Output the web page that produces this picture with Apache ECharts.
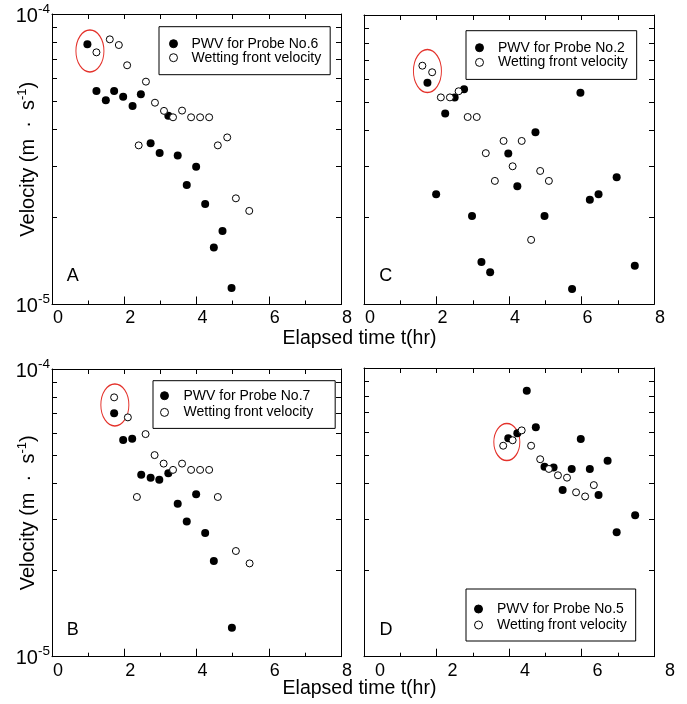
<!DOCTYPE html>
<html><head><meta charset="utf-8">
<script src="https://cdn.jsdelivr.net/npm/echarts@6/dist/echarts.min.js"></script>
<style>html,body{margin:0;padding:0;background:#fff}#c{width:687px;height:704px}</style>
</head><body><div id="c"></div>
<script>
// ---------- data ----------
const panelLetters = ['A', 'C', 'B', 'D'];
const probeNames = ['PWV for Probe No.6', 'PWV for Probe No.2', 'PWV for Probe No.7', 'PWV for Probe No.5'];
const wettingName = 'Wetting front velocity';
const xTitle = 'Elapsed time t(hr)';
const xTickLabels = [0, 2, 4, 6, 8];
const yLabelValues = [1e-5, 1e-4];
const yLabelExponents = ['-5', '-4'];
const yTickValues = [1e-5, 2e-5, 3e-5, 4e-5, 5e-5, 6e-5, 7e-5, 8e-5, 9e-5, 1e-4];

// Panel A (Probe No.6)
const pwvA = [[0.98,7.87e-5],[1.23,5.43e-5],[1.49,5.05e-5],[1.72,5.43e-5],[1.97,5.19e-5],[2.23,4.82e-5],[2.46,5.29e-5],[2.73,3.59e-5],[2.98,3.32e-5],[3.22,4.46e-5],[3.48,3.26e-5],[3.73,2.58e-5],[3.99,2.98e-5],[4.24,2.22e-5],[4.48,1.57e-5],[4.72,1.79e-5],[4.97,1.14e-5]];
const wetA = [[1.23,7.38e-5],[1.60,8.18e-5],[1.85,7.82e-5],[2.08,6.66e-5],[2.40,3.53e-5],[2.60,5.85e-5],[2.85,4.95e-5],[3.10,4.64e-5],[3.35,4.41e-5],[3.60,4.65e-5],[3.85,4.41e-5],[4.10,4.41e-5],[4.35,4.41e-5],[4.59,3.53e-5],[4.85,3.76e-5],[5.09,2.32e-5],[5.46,2.10e-5]];
const circledA = [[1.05,7.46e-5]];

// Panel C (Probe No.2)
const pwvC = [[1.75,5.83e-5],[1.99,2.40e-5],[2.24,4.57e-5],[2.50,5.19e-5],[2.76,5.54e-5],[2.98,2.02e-5],[3.24,1.40e-5],[3.48,1.29e-5],[3.98,3.32e-5],[4.23,2.56e-5],[4.73,3.93e-5],[4.98,2.02e-5],[5.74,1.13e-5],[5.97,5.39e-5],[6.23,2.30e-5],[6.47,2.40e-5],[6.97,2.75e-5],[7.47,1.36e-5]];
const wetC = [[1.61,6.68e-5],[1.88,6.34e-5],[2.12,5.19e-5],[2.37,5.19e-5],[2.61,5.45e-5],[2.86,4.44e-5],[3.11,4.44e-5],[3.36,3.33e-5],[3.61,2.67e-5],[3.85,3.67e-5],[4.10,3.00e-5],[4.35,3.67e-5],[4.61,1.67e-5],[4.86,2.89e-5],[5.10,2.67e-5]];
const circledC = [[1.75,6.40e-5]];

// Panel B (Probe No.7)
const pwvB = [[1.72,7.02e-5],[1.97,5.67e-5],[2.22,5.72e-5],[2.47,4.29e-5],[2.73,4.19e-5],[2.97,4.12e-5],[3.22,4.34e-5],[3.48,3.40e-5],[3.73,2.95e-5],[3.99,3.67e-5],[4.24,2.69e-5],[4.48,2.15e-5],[4.98,1.26e-5]];
const wetB = [[1.72,7.97e-5],[2.10,6.79e-5],[2.35,3.59e-5],[2.59,5.94e-5],[2.84,5.02e-5],[3.09,4.69e-5],[3.35,4.46e-5],[3.60,4.69e-5],[3.85,4.46e-5],[4.10,4.46e-5],[4.35,4.46e-5],[4.59,3.59e-5],[5.09,2.33e-5],[5.47,2.11e-5]];
const circledB = [[1.74,7.50e-5]];

// Panel D (Probe No.5)
const pwvD = [[3.98,5.71e-5],[4.23,5.94e-5],[4.49,8.34e-5],[4.74,6.23e-5],[4.98,4.55e-5],[5.23,4.52e-5],[5.48,3.78e-5],[5.73,4.47e-5],[5.98,5.68e-5],[6.23,4.47e-5],[6.47,3.63e-5],[6.72,4.77e-5],[6.97,2.70e-5],[7.48,3.09e-5]];
const wetD = [[3.84,5.38e-5],[4.10,5.62e-5],[4.35,6.08e-5],[4.61,5.38e-5],[4.86,4.83e-5],[5.10,4.47e-5],[5.35,4.25e-5],[5.60,4.17e-5],[5.85,3.71e-5],[6.10,3.59e-5],[6.34,3.93e-5]];
const circledD = [[3.94,5.54e-5]];

// ---------- layout ----------
const FONT = "'Liberation Sans', Arial, Helvetica, sans-serif";
const panels = [
  { grid: {left: 52, top: 14, width: 289, height: 290.5}, pwv: pwvA, wet: wetA, circ: circledA, ell: [28, 42], yLabels: true, xShift: 6,
    legend: {left: 159, top: 26.7, itemWidth: 26, itemGap: 0, padding: [10, 9, 10, 10]} },
  { grid: {left: 364, top: 15, width: 290, height: 289.3}, pwv: pwvC, wet: wetC, circ: circledC, ell: [28, 43], yLabels: false, xShift: 6,
    legend: {left: 466, top: 30.7, itemWidth: 27, itemGap: 0.7, padding: [10, 9, 10, 9]} },
  { grid: {left: 52, top: 369, width: 289, height: 287.7}, pwv: pwvB, wet: wetB, circ: circledB, ell: [28, 42], yLabels: true, xShift: 6,
    legend: {left: 153, top: 380.7, itemWidth: 28, itemGap: 2.7, padding: [8, 22, 9, 7]} },
  { grid: {left: 364, top: 368, width: 290, height: 288.7}, pwv: pwvD, wet: wetD, circ: circledD, ell: [26, 37], yLabels: false, xShift: 16,
    legend: {left: 466, top: 589, itemWidth: 27, itemGap: 2, padding: [13, 9, 9, 8]} }
];

const black = '#000';
const grid = [], xAxis = [], yAxis = [], series = [], legend = [];

function yLabelFmt(v) {
  for (let i = 0; i < yLabelValues.length; i++) {
    if (Math.abs(Math.log10(v) - Math.log10(yLabelValues[i])) < 1e-6) return '{b|10}{s|' + yLabelExponents[i] + '}';
  }
  return '';
}

panels.forEach((p, i) => {
  grid.push(Object.assign({containLabel: false}, p.grid));
  // bottom x
  xAxis.push({
    type: 'value', gridIndex: i, position: 'bottom', min: 0, max: 8, interval: 2,
    axisLine: {show: true, onZero: false, lineStyle: {color: black, width: 1}},
    axisTick: {show: true, inside: true, length: 8, lineStyle: {color: black}},
    minorTick: {show: true, splitNumber: 2, length: 4, lineStyle: {color: black}},
    axisLabel: {show: true, color: black, fontSize: 18, fontFamily: FONT, margin: 5, padding: [0, 0, 0, p.xShift * 2],
      customValues: xTickLabels},
    splitLine: {show: false}, minorSplitLine: {show: false}
  });
  // top x
  xAxis.push({
    type: 'value', gridIndex: i, position: 'top', min: 0, max: 8, interval: 1,
    axisLine: {show: true, onZero: false, lineStyle: {color: black, width: 1}},
    axisTick: {show: true, inside: true, length: 5, lineStyle: {color: black}},
    axisLabel: {show: false}, splitLine: {show: false}
  });
  const yCommon = {
    type: 'log', logBase: 10, gridIndex: i, min: 1e-5, max: 1e-4,
    axisLine: {show: true, onZero: false, lineStyle: {color: black, width: 1}},
    axisTick: {show: true, inside: true, length: 5, lineStyle: {color: black}, customValues: yTickValues},
    splitLine: {show: false}
  };
  yAxis.push(Object.assign({}, yCommon, {
    position: 'left',
    axisLabel: {show: p.yLabels, customValues: yLabelValues, formatter: yLabelFmt, margin: 2, color: black,
      rich: {b: {fontSize: 20, fontFamily: FONT, color: black, lineHeight: 24, verticalAlign: 'bottom'},
             s: {fontSize: 13.5, fontFamily: FONT, color: black, lineHeight: 14, verticalAlign: 'top'}}},
    name: p.yLabels ? '{a|Velocity (m  \u00B7  s}{s|-1}{a|)}' : '',
    nameLocation: 'middle', nameRotate: 90, nameGap: 14, nameMoveOverlap: false,
    nameTextStyle: {rich: {a: {fontSize: 20, fontFamily: FONT, color: black, lineHeight: 22, verticalAlign: 'bottom'},
                           s: {fontSize: 13, fontFamily: FONT, color: black, lineHeight: 13, verticalAlign: 'top'}}}
  }));
  yAxis.push(Object.assign({}, yCommon, {position: 'right', axisLabel: {show: false}}));

  series.push({
    name: probeNames[i], type: 'scatter', xAxisIndex: 2 * i, yAxisIndex: 2 * i, data: p.pwv,
    symbol: 'circle', symbolSize: 8, itemStyle: {color: black, borderColor: black, borderWidth: 0, opacity: 1},
    emphasis: {disabled: true}, z: 3
  });
  series.push({
    name: wettingName, type: 'scatter', xAxisIndex: 2 * i, yAxisIndex: 2 * i, data: p.wet,
    symbol: 'circle', symbolSize: 7, itemStyle: {color: '#fff', borderColor: black, borderWidth: 1, opacity: 1},
    emphasis: {disabled: true}, z: 4
  });
  series.push({
    name: 'circled' + i, type: 'scatter', xAxisIndex: 2 * i, yAxisIndex: 2 * i, data: p.circ,
    symbol: 'circle', symbolSize: p.ell, silent: true,
    itemStyle: {color: 'rgba(0,0,0,0)', borderColor: '#e4322b', borderWidth: 1.2, opacity: 1},
    emphasis: {disabled: true}, z: 2
  });

  legend.push(Object.assign({
    orient: 'vertical', data: [probeNames[i], wettingName], icon: 'circle', itemHeight: 8,
    borderColor: black, borderWidth: 1, backgroundColor: '#fff', selectedMode: false,
    itemStyle: {borderWidth: 1, borderColor: black},
    textStyle: {fontSize: 14, lineHeight: 13, color: black, fontFamily: FONT}
  }, p.legend));
});

const graphic = [
  {type: 'text', x: 72.7, y: 276, style: {text: panelLetters[0], font: '18px ' + FONT, fill: black, textAlign: 'center', textVerticalAlign: 'middle'}},
  {type: 'text', x: 385.7, y: 276, style: {text: panelLetters[1], font: '18px ' + FONT, fill: black, textAlign: 'center', textVerticalAlign: 'middle'}},
  {type: 'text', x: 72.7, y: 630.5, style: {text: panelLetters[2], font: '18px ' + FONT, fill: black, textAlign: 'center', textVerticalAlign: 'middle'}},
  {type: 'text', x: 386, y: 630, style: {text: panelLetters[3], font: '18px ' + FONT, fill: black, textAlign: 'center', textVerticalAlign: 'middle'}},
  {type: 'text', x: 359.5, y: 338.5, style: {text: xTitle, font: '19.5px ' + FONT, fill: black, textAlign: 'center', textVerticalAlign: 'middle'}},
  {type: 'text', x: 359.5, y: 689, style: {text: xTitle, font: '19.5px ' + FONT, fill: black, textAlign: 'center', textVerticalAlign: 'middle'}}
];

const chart = echarts.init(document.getElementById('c'), null, {renderer: 'canvas'});
chart.setOption({
  animation: false, backgroundColor: '#fff',
  textStyle: {fontFamily: FONT},
  grid, xAxis, yAxis, series, legend, graphic
});
</script>
</body></html>
